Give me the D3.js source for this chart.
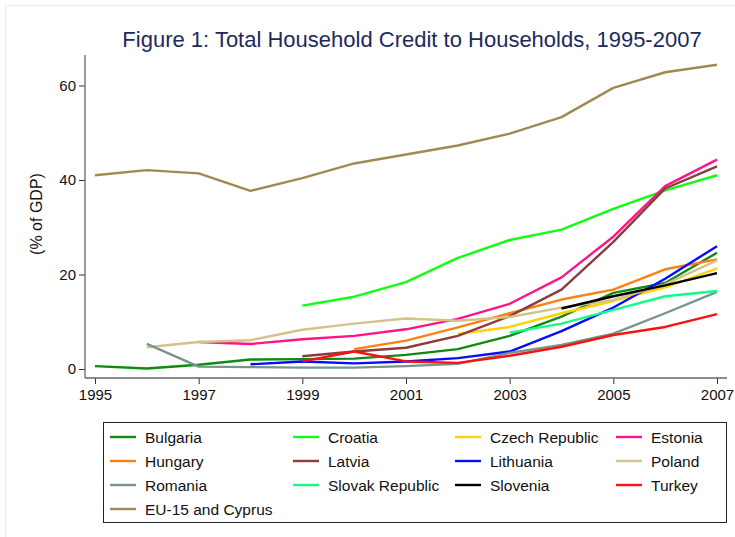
<!DOCTYPE html>
<html>
<head>
<meta charset="utf-8">
<script src="https://cdn.jsdelivr.net/npm/d3@7"></script>
<style>
  body { margin: 0; background: #fff; }
  svg text { font-family: "Liberation Sans", Arial, sans-serif; }
</style>
</head>
<body>
<div id="graf"></div>
<script>
// years on the x axis
const years = d3.range(1995, 2008)
const xTicks = [1995, 1997, 1999, 2001, 2003, 2005, 2007]
const yTicks = [0, 20, 40, 60]

// one array per country, null = no data that year (1995..2007)
const bulgaria = [0.6, 0.1, 0.9, 2.0, 2.1, 2.2, 3.0, 4.2, 7.0, 11.1, 16.1, 18.2, 24.6]
const croatia  = [null, null, null, null, 13.4, 15.3, 18.4, 23.5, 27.3, 29.5, 33.9, 37.8, 41.0]
const czech    = [null, null, null, null, null, null, null, 7.4, 8.9, 11.8, 14.4, 17.3, 21.3]
const estonia  = [null, null, 5.7, 5.3, 6.3, 7.0, 8.4, 10.6, 13.8, 19.4, 28.0, 38.7, 44.3]
const hungary  = [null, null, null, null, null, 4.2, 6.0, 8.8, 11.8, 14.7, 16.8, 21.1, 23.2]
const latvia   = [null, null, null, null, 2.7, 3.7, 4.5, 7.0, 11.2, 16.8, 26.9, 38.2, 42.9]
const lithuania= [null, null, null, 1.0, 1.6, 1.2, 1.6, 2.3, 3.7, 8.0, 13.0, 19.1, 26.0]
const poland   = [null, 4.6, 5.7, 6.1, 8.3, 9.6, 10.7, 10.2, 11.0, 13.0, 14.6, 17.9, 23.0]
const romania  = [null, 5.3, 0.5, 0.4, 0.3, 0.3, 0.6, 1.1, 3.4, 5.1, 7.5, 11.8, 16.3]
const slovak   = [null, null, null, null, null, null, null, null, 7.7, 9.6, 12.5, 15.4, 16.5]
const slovenia = [null, null, null, null, null, null, null, null, null, 12.8, 15.4, 17.7, 20.3]
const turkey   = [null, null, null, null, 1.6, 3.7, 1.6, 1.3, 2.8, 4.7, 7.2, 8.9, 11.6]
const eu15     = [41.0, 42.1, 41.4, 37.7, 40.4, 43.5, 45.4, 47.3, 49.8, 53.3, 59.5, 62.8, 64.4]

const names = ["Bulgaria", "Croatia", "Czech Republic", "Estonia", "Hungary", "Latvia",
  "Lithuania", "Poland", "Romania", "Slovak Republic", "Slovenia", "Turkey", "EU-15 and Cyprus"]
const colors = ["#118a11", "#11ff11", "#ffd200", "#ff1488", "#ff8010", "#8c3c3c",
  "#0a0aff", "#d2c38a", "#76968c", "#10ff88", "#000000", "#ff1010", "#a08a50"]

const series = [bulgaria, croatia, czech, estonia, hungary, latvia, lithuania,
  poland, romania, slovak, slovenia, turkey, eu15]
  .map((vals, i) => ({name: names[i], color: colors[i],
    values: vals.map((v, j) => ({year: years[j], v: v}))}))

const width = 735
const height = 537
const plot = {left: 85, right: 727, top: 55, bottom: 378}

const svg = d3.select("#graf").append("svg")
    .attr("width", width)
    .attr("height", height)

// faint outer frame (only top and left fall inside the picture)
svg.append("rect")
    .attr("x", 5.5).attr("y", 5.5)
    .attr("width", width + 10).attr("height", height + 10)
    .attr("fill", "none")
    .attr("stroke", "#e6edf1")

const x = d3.scaleLinear()
    .domain([1995, 2007])
    .range([95, 717])

const y = d3.scaleLinear()
    .domain([0, 60])
    .range([369, 85.5])

// title
svg.append("text")
    .attr("x", 412)
    .attr("y", 47)
    .attr("text-anchor", "middle")
    .attr("font-size", 22)
    .attr("fill", "#1c2b59")
    .text("Figure 1: Total Household Credit to Households, 1995-2007")

// y axis
const yAxis = svg.append("g")
    .attr("transform", `translate(${plot.left},0)`)
    .call(d3.axisLeft(y).tickValues(yTicks).tickSize(6).tickPadding(3))
yAxis.select(".domain").remove()
yAxis.append("line")
    .attr("y1", plot.top).attr("y2", plot.bottom)
    .attr("stroke", "#666").attr("stroke-width", 1.3)
yAxis.selectAll(".tick line").attr("stroke", "#333")
yAxis.selectAll(".tick text")
    .attr("font-size", 15)
    .attr("fill", "#111")
    .attr("font-family", "Liberation Sans, Arial, sans-serif")

svg.append("text")
    .attr("transform", "translate(42,214) rotate(-90)")
    .attr("text-anchor", "middle")
    .attr("font-size", 16)
    .attr("fill", "#111")
    .text("(% of GDP)")

// x axis
const xAxis = svg.append("g")
    .attr("transform", `translate(0,${plot.bottom})`)
    .call(d3.axisBottom(x).tickValues(xTicks).tickFormat(d3.format("d")).tickSize(6).tickPadding(5))
xAxis.select(".domain").remove()
xAxis.append("line")
    .attr("x1", plot.left).attr("x2", plot.right)
    .attr("stroke", "#666").attr("stroke-width", 1.3)
xAxis.selectAll(".tick line").attr("stroke", "#333")
xAxis.selectAll(".tick text")
    .attr("font-size", 15)
    .attr("fill", "#111")
    .attr("font-family", "Liberation Sans, Arial, sans-serif")

// lines
const line = d3.line()
    .defined(d => d.v !== null)
    .x(d => x(d.year))
    .y(d => y(d.v))

svg.append("g")
  .selectAll("path")
  .data(series)
  .join("path")
    .attr("fill", "none")
    .attr("stroke", d => d.color)
    .attr("stroke-width", 2.4)
    .attr("stroke-linejoin", "round")
    .attr("d", d => line(d.values))

// legend
const legend = svg.append("g")
svg.append("rect")
    .attr("x", 103.5).attr("y", 422.5)
    .attr("width", 623).attr("height", 100)
    .attr("fill", "none")
    .attr("stroke", "#222")
    .attr("stroke-width", 1)

const colX = [110, 293, 455, 616]
const rowY = [437, 461, 485, 509]

const item = legend.selectAll("g")
  .data(series)
  .join("g")
    .attr("transform", (d, i) => `translate(${colX[i % 4]},${rowY[Math.floor(i / 4)]})`)
item.append("line")
    .attr("x1", 0).attr("x2", 26)
    .attr("stroke", d => d.color)
    .attr("stroke-width", 2.4)
item.append("text")
    .attr("x", 35)
    .attr("y", 5.5)
    .attr("font-size", 15.5)
    .attr("fill", "#111")
    .text(d => d.name)
</script>
</body>
</html>
